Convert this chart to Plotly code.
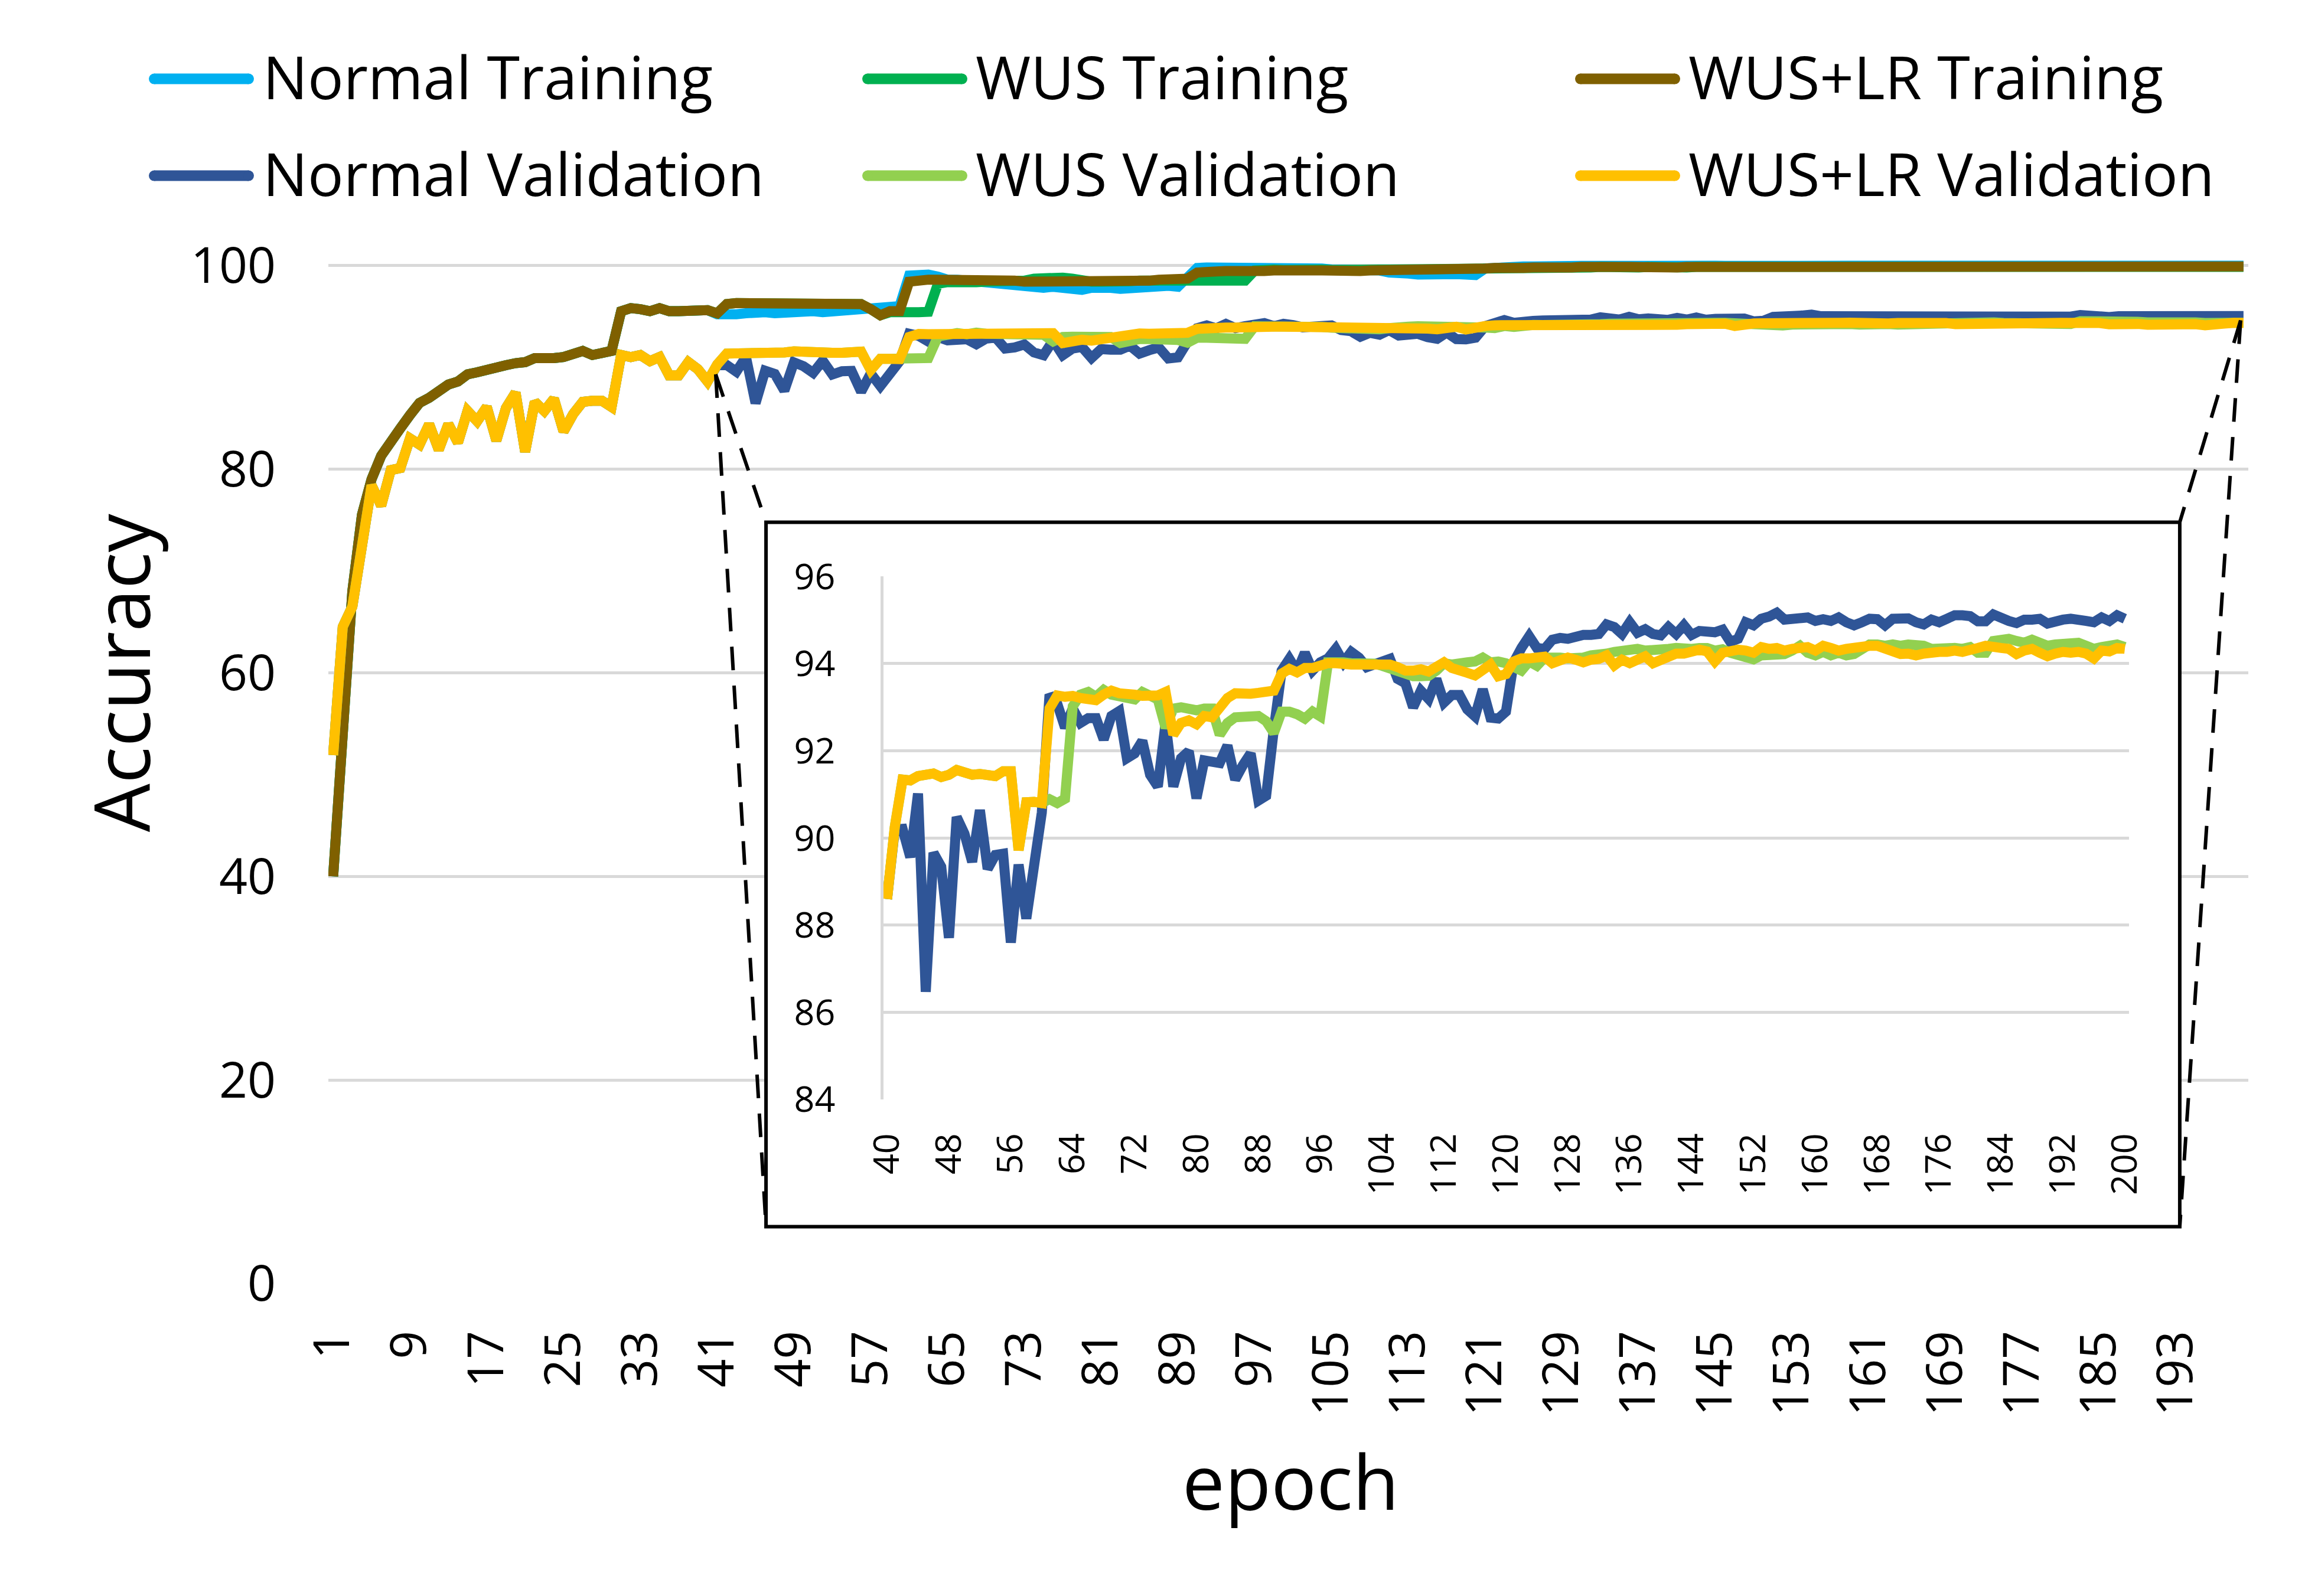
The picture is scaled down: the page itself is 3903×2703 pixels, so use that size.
import plotly.graph_objects as go

# ---------------- data ----------------
epochs = list(range(1, 201))

# epochs 1-40: all three runs are identical before they diverge
train_common = [40.0, 56.0, 68.0, 75.5, 79.0, 81.3, 82.8, 84.0, 85.3, 86.5,
                87.0, 87.8, 88.3, 88.6, 89.3, 89.5, 89.8, 90.0, 90.2, 90.4,
                90.5, 90.9, 90.8, 90.9, 91.0, 91.3, 91.6, 91.2, 91.5, 91.6,
                95.5, 95.8, 95.7, 95.5, 95.8, 95.5, 95.5, 95.5, 95.6, 95.6]

val_common = [51.9, 64.5, 66.5, 72.5, 78.4, 76.4, 79.9, 80.1, 83.0, 82.4,
              84.4, 81.9, 84.4, 82.6, 85.7, 84.7, 86.1, 82.8, 86.0, 87.5,
              81.7, 86.6, 85.7, 86.9, 83.7, 85.4, 86.6, 86.7, 86.7, 86.1,
              91.2, 91.0, 91.2, 90.6, 91.0, 89.2, 89.2, 90.5, 89.8, 88.6]

# epochs 41-200
normal_train_tail = [
    95.2, 95.1, 95.2, 95.3, 95.4, 95.4, 95.3, 95.4, 95.4, 95.5,
    95.5, 95.4, 95.5, 95.5, 95.6, 95.7, 95.8, 95.9, 95.9, 96.0,
    99.0, 99.1, 99.1, 98.9, 98.6, 98.6, 98.5, 98.5, 98.5, 98.4,
    98.3, 98.1, 97.9, 97.9, 97.8, 97.9, 97.8, 97.9, 97.6, 97.8,
    97.9, 97.8, 97.7, 97.8, 97.9, 98.0, 98.1, 98.0, 97.9, 98.8,
    99.75, 99.8, 99.8, 99.75, 99.8, 99.8, 99.85, 99.8, 99.75, 99.8,
    99.8, 99.75, 99.8, 99.7, 99.6, 99.6, 99.55, 99.6, 99.55, 99.5,
    99.3, 99.15, 99.2, 99.1, 99.15, 99.1, 99.2, 99.15, 99.1, 99.05,
    99.7, 99.8, 99.85, 99.9, 99.9, 99.9, 99.95, 99.9, 99.95, 99.95,
    99.95, 99.95, 99.97, 99.95, 99.97, 99.95, 99.97, 99.97, 99.95, 99.97,
    99.97, 99.95, 99.97, 99.97, 99.97, 99.95, 99.97, 99.97, 99.97, 99.97,
    99.97, 99.97, 99.95, 99.97, 99.97, 99.97, 99.97, 99.98, 99.97, 99.97,
    99.97, 99.98, 99.97, 99.97, 99.97, 99.98, 99.97, 99.97, 99.98, 99.97,
    99.97, 99.97, 99.98, 99.97, 99.97, 99.98, 99.97, 99.97, 99.97, 99.98,
    99.97, 99.98, 99.97, 99.97, 99.98, 99.97, 99.97, 99.98, 99.97, 99.97,
    99.98, 99.97, 99.97, 99.98, 99.97, 99.97, 99.98, 99.97, 99.98, 99.97]

wus_train_tail = [
    95.3, 96.2, 96.3, 96.3, 96.3, 96.4, 96.2, 96.3, 96.2, 96.4,
    96.3, 96.4, 96.2, 96.3, 96.4, 96.2, 95.7, 95.1, 95.4, 95.35,
    95.4, 95.4, 95.45, 98.2, 98.35, 98.3, 98.35, 98.35, 98.4, 98.4,
    98.4, 98.45, 98.5, 98.7, 98.8, 98.8, 98.8, 98.7, 98.5, 98.4,
    98.4, 98.35, 98.4, 98.45, 98.5, 98.5, 98.55, 98.5, 98.4, 98.4,
    98.4, 98.45, 98.45, 98.45, 98.5, 98.5, 99.5, 99.6, 99.6, 99.55,
    99.6, 99.55, 99.6, 99.6, 99.55, 99.6, 99.6, 99.55, 99.6, 99.6,
    99.6, 99.6, 99.65, 99.6, 99.65, 99.65, 99.7, 99.7, 99.7, 99.75,
    99.75, 99.75, 99.7, 99.75, 99.75, 99.8, 99.75, 99.8, 99.8, 99.8,
    99.8, 99.8, 99.85, 99.8, 99.8, 99.85, 99.8, 99.85, 99.8, 99.85,
    99.85, 99.8, 99.85, 99.85, 99.85, 99.8, 99.85, 99.85, 99.85, 99.85,
    99.85, 99.85, 99.85, 99.85, 99.8, 99.85, 99.85, 99.85, 99.85, 99.85,
    99.85, 99.85, 99.85, 99.85, 99.85, 99.85, 99.85, 99.8, 99.85, 99.85,
    99.85, 99.85, 99.85, 99.85, 99.85, 99.85, 99.85, 99.85, 99.85, 99.85,
    99.85, 99.85, 99.85, 99.85, 99.85, 99.85, 99.85, 99.85, 99.85, 99.85,
    99.85, 99.85, 99.85, 99.85, 99.85, 99.85, 99.85, 99.85, 99.85, 99.85]

wuslr_train_tail = [
    95.3, 96.2, 96.3, 96.3, 96.3, 96.4, 96.2, 96.3, 96.2, 96.4,
    96.3, 96.4, 96.2, 96.3, 96.4, 96.2, 95.7, 95.1, 95.5, 95.5,
    98.4, 98.6, 98.6, 98.6, 98.6, 98.7, 98.6, 98.6, 98.6, 98.6,
    98.5, 98.5, 98.4, 98.4, 98.5, 98.4, 98.3, 98.3, 98.3, 98.4,
    98.4, 98.3, 98.4, 98.5, 98.5, 98.5, 98.6, 98.6, 98.7, 98.7,
    99.3, 99.45, 99.4, 99.45, 99.4, 99.45, 99.5, 99.45, 99.5, 99.45,
    99.5, 99.45, 99.5, 99.5, 99.45, 99.5, 99.5, 99.45, 99.5, 99.5,
    99.55, 99.5, 99.55, 99.55, 99.6, 99.55, 99.6, 99.65, 99.6, 99.7,
    99.7, 99.75, 99.7, 99.75, 99.75, 99.8, 99.75, 99.8, 99.8, 99.8,
    99.85, 99.8, 99.85, 99.8, 99.85, 99.85, 99.8, 99.85, 99.85, 99.85,
    99.8, 99.85, 99.85, 99.85, 99.9, 99.85, 99.85, 99.9, 99.85, 99.9,
    99.9, 99.85, 99.9, 99.9, 99.9, 99.85, 99.9, 99.9, 99.9, 99.9,
    99.9, 99.9, 99.85, 99.9, 99.9, 99.9, 99.9, 99.9, 99.9, 99.9,
    99.9, 99.9, 99.9, 99.85, 99.9, 99.9, 99.9, 99.9, 99.9, 99.9,
    99.9, 99.9, 99.9, 99.9, 99.9, 99.9, 99.85, 99.9, 99.9, 99.9,
    99.9, 99.9, 99.9, 99.9, 99.9, 99.9, 99.9, 99.9, 99.9, 99.9]

normal_val_tail = [
    90.2, 90.21, 89.56, 91.02, 86.47, 89.66, 89.34, 87.71, 90.48, 90.1,
    89.45, 90.64, 89.29, 89.61, 89.64, 87.6, 89.39, 88.15, 89.5, 90.58,
    93.29, 93.08, 92.53, 92.97, 92.64, 92.75, 92.75, 92.26, 92.8, 92.91,
    91.83, 91.94, 92.23, 91.45, 91.18, 92.64, 91.18, 91.83, 91.99, 90.91,
    91.78, 91.72, 91.72, 92.12, 91.34, 91.67, 91.94, 90.86, 90.97, 92.5,
    93.84, 94.11, 93.82, 94.25, 93.84, 94.03, 94.12, 94.34, 94.03, 94.27,
    94.14, 93.92, 93.98, 94.09, 94.11, 93.65, 93.55, 93.0, 93.38, 93.19,
    93.65, 93.11, 93.28, 93.28, 92.95, 92.79, 93.41, 92.76, 92.74, 92.9,
    94.03, 94.36, 94.63, 94.36, 94.34, 94.55, 94.59, 94.57, 94.63, 94.66,
    94.66, 94.68, 94.9, 94.84, 94.68, 94.95, 94.71, 94.79, 94.68, 94.65,
    94.84, 94.68, 94.88, 94.66, 94.75, 94.72, 94.72, 94.78, 94.5, 94.57,
    94.95, 94.88, 95.03, 95.08, 95.17, 95.01, 95.01, 95.03, 95.06, 94.98,
    95.02, 94.98, 95.06, 94.95, 94.88, 94.95, 95.03, 95.02, 94.88, 95.03,
    95.06, 95.04, 94.95, 94.9, 95.01, 94.95, 95.03, 95.11, 95.11, 95.09,
    94.97, 94.97, 95.13, 95.03, 94.98, 94.93, 95.01, 95.01, 95.03, 94.92,
    94.98, 95.01, 95.03, 95.03, 94.98, 94.95, 95.06, 94.98, 95.11, 95.03]

wus_val_tail = [
    90.26, 91.34, 91.32, 91.42, 91.45, 91.48, 91.4, 91.45, 91.56, 91.48,
    91.45, 91.47, 91.42, 91.42, 91.53, 91.53, 89.72, 90.82, 90.83, 90.8,
    90.89, 90.8, 90.9, 93.02, 93.29, 93.35, 93.24, 93.4, 93.29, 93.27,
    93.24, 93.18, 93.35, 93.24, 93.18, 92.53, 92.97, 93.0, 92.97, 92.93,
    92.97, 92.97, 92.37, 92.64, 92.77, 92.77, 92.77, 92.8, 92.68, 92.41,
    92.9, 92.9, 92.84, 92.74, 92.9, 92.79, 94.03, 94.05, 94.03, 94.01,
    94.01, 94.01, 94.0, 93.95, 93.88, 93.82, 93.76, 93.71, 93.71, 93.72,
    93.84, 94.01, 93.98, 94.03, 94.03, 94.05, 94.14, 94.03, 94.05, 94.01,
    93.9, 93.84, 94.05, 93.95, 94.14, 94.16, 94.14, 94.12, 94.12, 94.14,
    94.19, 94.19, 94.23, 94.27, 94.3, 94.3, 94.34, 94.3, 94.3, 94.34,
    94.34, 94.36, 94.34, 94.34, 94.36, 94.36, 94.3, 94.33, 94.25, 94.19,
    94.12, 94.1, 94.19, 94.21, 94.19, 94.22, 94.3, 94.41, 94.25, 94.19,
    94.27, 94.19, 94.25, 94.19, 94.22, 94.36, 94.44, 94.44, 94.41, 94.44,
    94.41, 94.44, 94.44, 94.41, 94.34, 94.36, 94.38, 94.36, 94.34, 94.38,
    94.25, 94.25, 94.52, 94.55, 94.57, 94.52, 94.48, 94.55, 94.46, 94.41,
    94.44, 94.44, 94.44, 94.48, 94.41, 94.34, 94.38, 94.41, 94.44, 94.38]

wuslr_val_tail = [
    90.26, 91.34, 91.32, 91.42, 91.45, 91.48, 91.4, 91.45, 91.56, 91.48,
    91.45, 91.47, 91.42, 91.42, 91.53, 91.53, 89.72, 90.82, 90.83, 90.8,
    92.97, 93.27, 93.24, 93.26, 93.21, 93.18, 93.16, 93.29, 93.38, 93.32,
    93.32, 93.29, 93.26, 93.27, 93.27, 93.35, 92.37, 92.64, 92.7, 92.61,
    92.8, 92.77, 92.97, 93.21, 93.32, 93.29, 93.31, 93.33, 93.33, 93.38,
    93.77, 93.88, 93.8, 93.9, 93.9, 93.98, 94.01, 94.01, 93.98, 93.98,
    93.98, 93.98, 93.98, 93.98, 93.98, 93.92, 93.84, 93.84, 93.87, 93.82,
    93.9, 94.03, 93.9, 93.82, 93.79, 93.73, 93.87, 93.98, 93.71, 93.76,
    94.05, 94.12, 94.12, 94.12, 94.16, 94.01, 94.05, 94.14, 94.09, 94.03,
    94.09, 94.11, 94.19, 93.96, 94.09, 94.01, 94.09, 94.17, 94.01, 94.08,
    94.17, 94.23, 94.23, 94.28, 94.32, 94.28, 94.05, 94.25, 94.3, 94.32,
    94.3, 94.25, 94.38, 94.34, 94.36, 94.3, 94.34, 94.36, 94.38, 94.3,
    94.41, 94.36, 94.3, 94.34, 94.38, 94.38, 94.41, 94.41, 94.34, 94.23,
    94.22, 94.23, 94.19, 94.23, 94.27, 94.27, 94.27, 94.3, 94.27, 94.34,
    94.36, 94.41, 94.36, 94.36, 94.34, 94.22, 94.3, 94.34, 94.25, 94.17,
    94.23, 94.27, 94.25, 94.27, 94.23, 94.12, 94.3, 94.28, 94.36, 94.34]

series_names = ["Normal Training", "WUS Training", "WUS+LR Training",
                "Normal Validation", "WUS Validation", "WUS+LR Validation"]
series_colors = ["#00B0F0", "#00B050", "#7F6000", "#2F5597", "#92D050", "#FFC000"]
series_values = [train_common + normal_train_tail,
                 train_common + wus_train_tail,
                 train_common + wuslr_train_tail,
                 val_common + normal_val_tail,
                 val_common + wus_val_tail,
                 val_common + wuslr_val_tail]

main_xticks = list(range(1, 200, 8))
main_yticks = [0, 20, 40, 60, 80, 100]
inset_first_epoch = 40
inset_xticks = list(range(40, 201, 8))
inset_yticks = [84, 86, 88, 90, 92, 94, 96]

# ---------------- geometry (pixels of the 3903 x 2703 page) ----------------
W, H = 3903, 2703
L_PX, R_PX = 556, 3807
T_PX, B_PX = 414.5, 2174


def pxx(x):
    return (x - L_PX) / (R_PX - L_PX)


def pxy(y):
    return (B_PX - y) / (B_PX - T_PX)


FONT = "Open Sans"
GRID = "#D9D9D9"
LW = 17

fig = go.Figure()

# main chart
for name, vals, col in zip(series_names, series_values, series_colors):
    fig.add_trace(go.Scatter(x=epochs, y=vals, mode="lines", name=name,
                             line=dict(color=col, width=LW),
                             showlegend=False, xaxis="x", yaxis="y",
                             hoverinfo="skip"))

# inset (validation curves from epoch 40)
i0 = epochs.index(inset_first_epoch)
for name, vals, col in zip(series_names[3:], series_values[3:], series_colors[3:]):
    fig.add_trace(go.Scatter(x=epochs[i0:], y=vals[i0:], mode="lines", name=name,
                             line=dict(color=col, width=LW),
                             showlegend=False, xaxis="x2", yaxis="y2",
                             hoverinfo="skip"))

shapes = []
annotations = []

# inset frame and zoom connectors (in main-axis coordinates)
box_x0, box_x1, box_y0, box_y1 = 46.09, 193.36, 5.59, 74.78
shapes.append(dict(type="rect", xref="x", yref="y", x0=box_x0, x1=box_x1,
                   y0=box_y0, y1=box_y1, fillcolor="white",
                   line=dict(color="black", width=6), layer="between"))
left_pt = (40.85, 89.3)
right_pt = (199.7, 94.6)
for (sx, sy), ex in ((left_pt, box_x0), (right_pt, box_x1)):
    for ey in (box_y1, box_y0):
        shapes.append(dict(type="line", xref="x", yref="y", x0=sx, y0=sy,
                           x1=ex, y1=ey, layer="above",
                           line=dict(color="black", width=6, dash="40px,26px")))

# custom legend (3 columns x 2 rows), line samples with round ends
col_line_x = [(252, 430), (1460, 1638), (2667, 2845)]
col_text_x = [443, 1650, 2857]
row_y = [133, 297]
LEG_W = 18
rr = LEG_W / 2
for i, (name, col) in enumerate(zip(series_names, series_colors)):
    r, c = divmod(i, 3)
    xa, xb = col_line_x[c][0] + rr, col_line_x[c][1] - rr
    yc = row_y[r]
    shapes.append(dict(type="line", xref="paper", yref="paper",
                       x0=pxx(xa), x1=pxx(xb), y0=pxy(yc), y1=pxy(yc),
                       line=dict(color=col, width=LEG_W)))
    for xe in (xa, xb):
        shapes.append(dict(type="circle", xref="paper", yref="paper",
                           x0=pxx(xe - rr), x1=pxx(xe + rr),
                           y0=pxy(yc + rr), y1=pxy(yc - rr),
                           fillcolor=col, line=dict(width=0)))
    annotations.append(dict(text=name, xref="paper", yref="paper",
                            x=pxx(col_text_x[c]), y=pxy(yc - 5),
                            xanchor="left", yanchor="middle", showarrow=False,
                            font=dict(family=FONT, size=101, color="black")))

# axis titles
annotations.append(dict(text="Accuracy", xref="paper", yref="paper",
                        x=pxx(203), y=pxy(1139), textangle=-90,
                        xanchor="center", yanchor="middle", showarrow=False,
                        font=dict(family=FONT, size=130, color="black")))
annotations.append(dict(text="epoch", xref="paper", yref="paper",
                        x=pxx(2185), y=pxy(2508),
                        xanchor="center", yanchor="middle", showarrow=False,
                        font=dict(family=FONT, size=128, color="black")))

fig.update_layout(
    width=W, height=H, autosize=False,
    margin=dict(l=L_PX, r=W - R_PX, t=T_PX, b=H - B_PX, pad=0),
    paper_bgcolor="white", plot_bgcolor="white",
    font=dict(family=FONT, color="black"),
    showlegend=False,
    shapes=shapes, annotations=annotations,
    xaxis=dict(domain=[0, 1], range=[0.5, 200.5], anchor="y",
               tickmode="array", tickvals=main_xticks,
               ticktext=[str(v) for v in main_xticks], tickangle=-90,
               tickfont=dict(family=FONT, size=84, color="black"),
               showgrid=False, zeroline=False, showline=False, ticks="",
               ticklabelstandoff=62, automargin=False, fixedrange=True),
    yaxis=dict(domain=[0, 1], range=[0, 102], anchor="x",
               tickmode="array", tickvals=main_yticks,
               tickfont=dict(family=FONT, size=84, color="black"),
               showgrid=True, gridcolor=GRID, gridwidth=5,
               zeroline=False, showline=False, ticks="",
               ticklabelstandoff=88, automargin=False, fixedrange=True),
    xaxis2=dict(domain=[pxx(1495.5), pxx(3604.5)], range=[39.5, 200.5],
                anchor="y2", tickmode="array", tickvals=inset_xticks,
                ticktext=[str(v) for v in inset_xticks], tickangle=-90,
                tickfont=dict(family=FONT, size=61, color="black"),
                showgrid=False, zeroline=False, showline=False, ticks="",
                ticklabelstandoff=44, automargin=False, fixedrange=True),
    yaxis2=dict(domain=[pxy(1862), pxy(976)], range=[84, 96],
                anchor="x2", tickmode="array", tickvals=inset_yticks,
                tickfont=dict(family=FONT, size=61, color="black"),
                showgrid=True, gridcolor=GRID, gridwidth=5,
                zeroline=False, showline=True, linecolor=GRID, linewidth=5,
                ticks="", ticklabelstandoff=64, automargin=False,
                fixedrange=True),
)

fig.write_html("out.html", include_plotlyjs=True,
               config={"displayModeBar": False, "responsive": False},
               post_script="document.body.style.margin='0px';")
